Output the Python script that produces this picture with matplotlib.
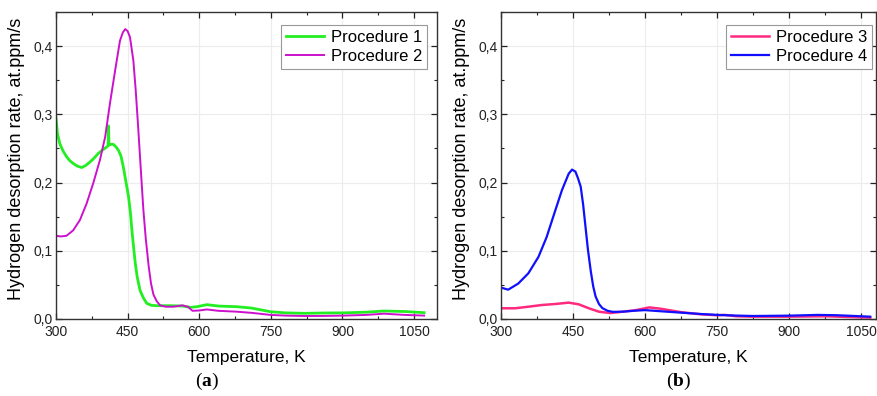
import matplotlib
matplotlib.use('Agg')
import matplotlib.pyplot as plt
from matplotlib.ticker import MultipleLocator, FuncFormatter

plt.rcParams['font.family'] = ['Liberation Sans', 'DejaVu Sans']
plt.rcParams['mathtext.fontset'] = 'custom'
plt.rcParams['mathtext.rm'] = 'Liberation Serif'
plt.rcParams['mathtext.bf'] = 'Liberation Serif:bold'

# Procedure 1 (green)
t1 = [300, 303, 308, 315, 322, 329, 336, 345, 354, 362, 371, 380, 389, 398, 406, 409,
      410, 411, 415, 420, 426, 431, 436, 441, 446, 452, 456, 459, 463, 466, 470, 476,
      483, 490, 500, 511, 540, 565, 581, 595, 616, 640, 679, 710, 749, 780, 819, 860,
      903, 950, 987, 1030, 1071]
y1 = [0.295, 0.272, 0.257, 0.246, 0.238, 0.232, 0.228, 0.224, 0.222, 0.225, 0.230,
      0.236, 0.243, 0.248, 0.252, 0.254, 0.283, 0.255, 0.256, 0.256, 0.252, 0.247,
      0.239, 0.223, 0.203, 0.179, 0.155, 0.130, 0.102, 0.082, 0.062, 0.042, 0.031,
      0.023, 0.020, 0.0195, 0.0195, 0.019, 0.017, 0.018, 0.021, 0.019, 0.018, 0.016,
      0.0107, 0.009, 0.0083, 0.0088, 0.009, 0.010, 0.0117, 0.011, 0.0093]

# Procedure 2 (magenta)
t2 = [300, 310, 322, 336, 350, 364, 378, 392, 403, 413, 424, 434, 440, 445, 450, 455,
      462, 467, 472, 478, 483, 488, 494, 499, 504, 511, 518, 530, 545, 565, 576, 586,
      600, 616, 640, 679, 710, 749, 780, 819, 860, 903, 950, 987, 1030, 1071]
y2 = [0.122, 0.121, 0.122, 0.130, 0.145, 0.169, 0.199, 0.233, 0.267, 0.316, 0.365,
      0.408, 0.420, 0.425, 0.422, 0.413, 0.379, 0.335, 0.282, 0.215, 0.160, 0.118,
      0.078, 0.052, 0.036, 0.026, 0.020, 0.018, 0.018, 0.020, 0.018, 0.012, 0.0125,
      0.014, 0.012, 0.0107, 0.009, 0.006, 0.005, 0.0044, 0.0045, 0.005, 0.006, 0.0078,
      0.006, 0.005]

# Procedure 3 (pink)
t3 = [300, 329, 357, 385, 413, 441, 462, 483, 504, 528, 553, 579, 609, 633, 675, 717,
      750, 766, 790, 825, 900, 975, 1050, 1069]
y3 = [0.0157, 0.0157, 0.018, 0.0205, 0.022, 0.024, 0.0215, 0.0157, 0.0107, 0.0087,
      0.0107, 0.0127, 0.017, 0.015, 0.010, 0.0068, 0.0055, 0.006, 0.004, 0.0034,
      0.0034, 0.004, 0.0024, 0.002]

# Procedure 4 (blue)
t4 = [300, 315, 336, 357, 378, 395, 413, 427, 441, 448, 455, 460, 466, 471, 476, 481,
      487, 492, 497, 504, 511, 522, 533, 553, 575, 600, 640, 675, 717, 750, 790, 825,
      900, 960, 1000, 1050, 1069]
y4 = [0.046, 0.043, 0.052, 0.067, 0.091, 0.120, 0.159, 0.189, 0.213, 0.219, 0.216,
      0.207, 0.194, 0.168, 0.135, 0.102, 0.070, 0.048, 0.033, 0.022, 0.016, 0.012,
      0.0105, 0.0107, 0.012, 0.013, 0.011, 0.0093, 0.0073, 0.006, 0.005, 0.0044,
      0.0049, 0.006, 0.0055, 0.004, 0.0034]

x_ticks = [300, 450, 600, 750, 900, 1050]
y_label = 'Hydrogen desorption rate, at.ppm/s'
x_label = 'Temperature, K'

fig = plt.figure(figsize=(8.77, 3.96), dpi=100)
W, H = 877, 396
ax_a = fig.add_axes([56 / W, 1 - 319 / H, 381 / W, 307 / H])
ax_b = fig.add_axes([501 / W, 1 - 319 / H, 375 / W, 307 / H])

ax_a.plot(t1, y1, color='#22ee22', lw=2.0, label='Procedure 1')
ax_a.plot(t2, y2, color='#cc11cc', lw=1.4, label='Procedure 2')
ax_b.plot(t3, y3, color='#ff2a80', lw=1.8, label='Procedure 3')
ax_b.plot(t4, y4, color='#1010ff', lw=1.6, label='Procedure 4')

comma = FuncFormatter(lambda v, p: f'{v:.1f}'.replace('.', ','))

for ax, xmax, leg_x, lab_x in [(ax_a, 1098, 0.974, -0.081), (ax_b, 1081, 0.989, -0.082)]:
    ax.set_xlim(300, xmax)
    ax.set_ylim(0, 0.45)
    ax.set_xticks(x_ticks)
    ax.xaxis.set_minor_locator(MultipleLocator(75))
    ax.yaxis.set_major_locator(MultipleLocator(0.1))
    ax.yaxis.set_minor_locator(MultipleLocator(0.05))
    ax.yaxis.set_major_formatter(comma)
    ax.grid(True, which='major', color='#ececec', lw=0.8)
    ax.set_axisbelow(True)
    ax.tick_params(which='both', direction='in', top=True, right=True,
                   labelsize=10, colors='#222222')
    ax.tick_params(which='major', length=4, width=0.9)
    ax.tick_params(which='minor', length=2.5, width=0.8)
    ax.tick_params(axis='x', pad=4)
    ax.tick_params(axis='y', pad=2.5)
    for s in ax.spines.values():
        s.set_color('#333333')
        s.set_linewidth(1.0)
    ax.set_xlabel(x_label, fontsize=12.5)
    ax.set_ylabel(y_label, fontsize=13)
    ax.xaxis.set_label_coords(0.5, -0.10)
    ax.yaxis.set_label_coords(lab_x, 0.523)
    leg = ax.legend(loc='upper right', bbox_to_anchor=(leg_x, 0.958),
                    borderaxespad=0, fontsize=12, fancybox=False, framealpha=1,
                    edgecolor='#999999', handlelength=2.3, handletextpad=0.4,
                    labelspacing=0.25, borderpad=0.3)
    leg.get_frame().set_linewidth(0.8)

fig.text(207 / W, 1 - 381 / H, r'($\mathbf{a}$)', ha='center', va='center',
         fontsize=14, family='Liberation Serif')
fig.text(679 / W, 1 - 381 / H, r'($\mathbf{b}$)', ha='center', va='center',
         fontsize=14, family='Liberation Serif')

fig.savefig('out.png', dpi=100)
